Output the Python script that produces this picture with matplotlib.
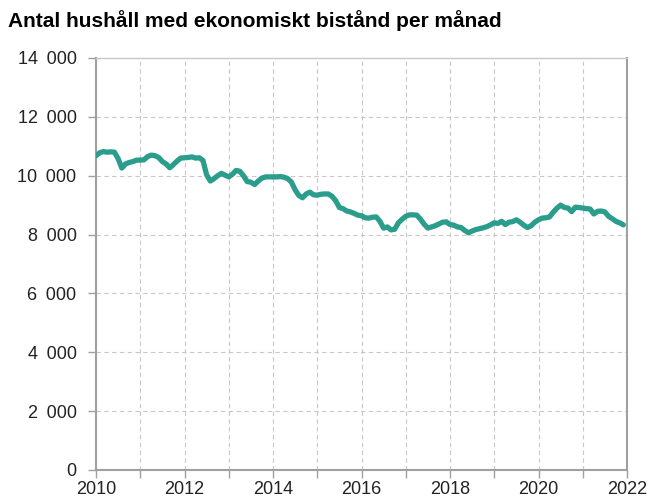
import matplotlib
matplotlib.use("Agg")
import matplotlib.pyplot as plt
import numpy as np

# monthly values Jan 2010 - Dec 2021
v2010 = [10680, 10780, 10820, 10800, 10810, 10800, 10580, 10260, 10400, 10450, 10480, 10530]
v2011 = [10530, 10540, 10650, 10700, 10680, 10620, 10480, 10400, 10270, 10380, 10500, 10600]
v2012 = [10610, 10620, 10640, 10600, 10610, 10520, 10030, 9820, 9900, 10000, 10080, 10020]
v2013 = [9960, 10050, 10180, 10150, 10000, 9800, 9780, 9700, 9820, 9920, 9960, 9960]
v2014 = [9960, 9960, 9970, 9950, 9900, 9780, 9520, 9330, 9250, 9380, 9440, 9350]
v2015 = [9340, 9370, 9380, 9380, 9300, 9150, 8920, 8880, 8800, 8770, 8720, 8660]
v2016 = [8640, 8570, 8560, 8590, 8600, 8450, 8220, 8260, 8160, 8180, 8400, 8520]
v2017 = [8620, 8670, 8670, 8660, 8520, 8350, 8220, 8260, 8300, 8360, 8420, 8430]
v2018 = [8340, 8320, 8260, 8240, 8140, 8060, 8120, 8170, 8200, 8230, 8270, 8330]
v2019 = [8400, 8380, 8450, 8340, 8420, 8440, 8500, 8420, 8320, 8240, 8300, 8420]
v2020 = [8500, 8560, 8570, 8600, 8760, 8900, 9000, 8920, 8900, 8780, 8930, 8920]
v2021 = [8900, 8880, 8870, 8700, 8790, 8800, 8770, 8620, 8540, 8450, 8400, 8330]

values = v2010 + v2011 + v2012 + v2013 + v2014 + v2015 + v2016 + v2017 + v2018 + v2019 + v2020 + v2021
start_year = 2010
x = start_year + np.arange(len(values)) / 12

title = "Antal hushåll med ekonomiskt bistånd per månad"
yticks = [0, 2000, 4000, 6000, 8000, 10000, 12000, 14000]
xlabels = [2010, 2012, 2014, 2016, 2018, 2020, 2022]

plt.rcParams["font.family"] = ["Liberation Sans", "DejaVu Sans"]

fig = plt.figure(figsize=(6.51, 5.04), dpi=100)
ax = fig.add_axes([96 / 651, 34 / 504, 531 / 651, 412 / 504])

ax.plot(x, values, color="#2a9d8c", lw=3.8, solid_capstyle="round", solid_joinstyle="round", zorder=3)

ax.set_xlim(2010, 2022)
ax.set_ylim(0, 14000)
ax.set_yticks(yticks)
# slightly wide thousands separator as in the original
ax.set_yticklabels([f"{t:,}".replace(",", " \u2009") for t in yticks])
ax.set_xticks(range(2010, 2023))
ax.set_xticklabels([str(y) if y in xlabels else "" for y in range(2010, 2023)])
ax.tick_params(axis="both", labelsize=13, labelcolor="#222222", color="#a0a0a0", length=6, width=1)
ax.tick_params(axis="y", pad=8)
ax.tick_params(axis="x", pad=2)

ax.grid(True, color="#c8c8c8", linestyle=(0, (4, 3)), linewidth=0.8)
for s in ax.spines.values():
    s.set_color("#a0a0a0")
    s.set_linewidth(1.5)
ax.spines["top"].set_color("#c8c8c8")
ax.spines["top"].set_linewidth(1.0)

fig.text(8 / 651, 1 - 21 / 504, title, fontsize=15, fontweight="bold", va="center", ha="left")

fig.savefig("out.png", dpi=100)
